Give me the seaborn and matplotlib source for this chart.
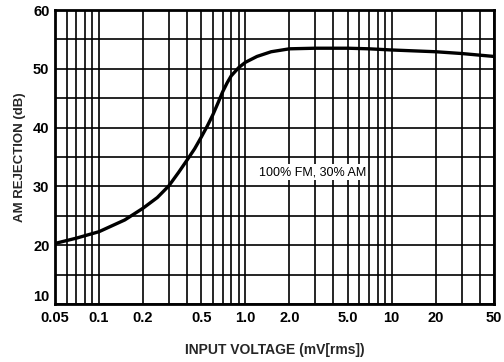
import matplotlib
matplotlib.use("Agg")
import matplotlib.pyplot as plt
import seaborn as sns
import pandas as pd
from matplotlib import font_manager

# data
input_mv = [0.05, 0.07, 0.1, 0.15, 0.2, 0.25, 0.3, 0.35, 0.4, 0.45, 0.5, 0.55,
            0.6, 0.65, 0.7, 0.75, 0.8, 0.9, 1.0, 1.2, 1.5, 2.0, 3.0, 5.0,
            7.0, 10, 20, 30, 50]
rejection_db = [20.3, 21.2, 22.3, 24.3, 26.3, 28.1, 30.1, 32.4, 34.5, 36.4,
                38.4, 40.3, 42.2, 44.2, 46.1, 47.6, 48.8, 50.2, 51.1, 52.1,
                52.9, 53.4, 53.5, 53.5, 53.4, 53.2, 52.9, 52.6, 52.1]
x_major = [0.05, 0.1, 0.2, 0.5, 1.0, 2.0, 5.0, 10, 20, 50]
x_labels = ["0.05", "0.1", "0.2", "0.5", "1.0", "2.0", "5.0", "10", "20", "50"]
x_minor = [0.06, 0.07, 0.08, 0.09, 0.3, 0.4, 0.6, 0.7, 0.8, 0.9,
           3, 4, 6, 7, 8, 9, 30, 40]
y_major = [10, 20, 30, 40, 50, 60]
y_minor = [15, 25, 35, 45, 55]

sns.set_theme(style="white")
names = {f.name for f in font_manager.fontManager.ttflist}
fams = [f for f in ["Liberation Sans Narrow", "DejaVu Sans Condensed", "Liberation Sans", "DejaVu Sans"] if f in names]
plt.rcParams["font.family"] = fams

fig = plt.figure(figsize=(5.04, 3.62), dpi=100)
ax = fig.add_axes([55/504, 58/362, 439/504, 294/362])

df = pd.DataFrame({"v": input_mv, "db": rejection_db})
sns.lineplot(data=df, x="v", y="db", ax=ax, color="black", linewidth=2.4, zorder=5)

ax.set_xscale("log")
ax.set_xlim(0.05, 50)
ax.set_ylim(10, 60)
ax.set_xticks(x_major)
ax.set_xticklabels(x_labels)
ax.set_xticks(x_minor, minor=True)
ax.xaxis.set_minor_formatter(matplotlib.ticker.NullFormatter())
ax.set_yticks(y_major)
ax.set_yticks(y_minor, minor=True)

ax.grid(which="both", color="black", linewidth=1.2)
ax.tick_params(which="both", length=0, labelsize=10.5, colors="black")
ax.tick_params(axis="x", pad=5)
ax.tick_params(axis="y", pad=4)
for lab in ax.get_xticklabels() + ax.get_yticklabels():
    lab.set_fontweight("bold")
ylabs = ax.get_yticklabels()
ylabs[0].set_verticalalignment("bottom")
for s in ax.spines.values():
    s.set_color("black")
    s.set_linewidth(2)

ax.set_xlabel("INPUT VOLTAGE (mV[rms])", fontsize=10, fontweight="bold", labelpad=13)
ax.set_ylabel("AM REJECTION (dB)", fontsize=9.5, fontweight="bold", labelpad=5)
ax.text(2.88, 32.4, "100% FM, 30% AM", fontsize=9, ha="center", va="center",
        color="black", zorder=6,
        bbox=dict(facecolor="white", edgecolor="none", pad=1.5))

fig.savefig("out.png", dpi=100)
